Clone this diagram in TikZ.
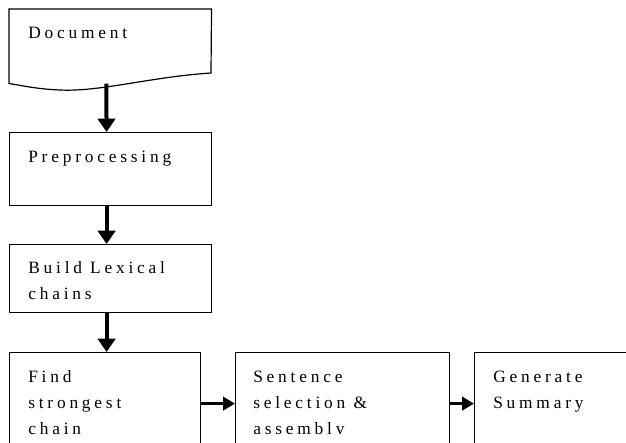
\documentclass[tikz,border=0pt]{standalone}
\usepackage{fontspec}
\setmainfont{Liberation Serif}[LetterSpace=22]
\usetikzlibrary{arrows.meta,positioning}

\newcommand{\lines}[1]{\begin{tabular}[t]{@{}l@{}}#1\end{tabular}}

\begin{document}
\begin{tikzpicture}[
x=0.75pt,y=-0.75pt,
stage/.style={
  draw,
  line width=0.9pt,
  anchor=north west,
  inner sep=0pt,
  minimum width=151.5pt
},
txt/.style={
  anchor=base west,
  inner sep=0pt,
  font=\fontsize{13pt}{19.5pt}\selectfont
},
down/.style={
  line width=3pt,
  -{Triangle[width=13pt,length=10pt]}
},
side/.style={
  line width=2.2pt,
  -{Triangle[width=10pt,length=9pt]}
}
]
\useasboundingbox (0,0) rectangle (626,443);
\clip (0,0) rectangle (626,443);

% document shape
\node[anchor=north west,inner sep=0pt,minimum width=151.5pt,minimum height=55.5pt] 
  (doc) at (9,9) {};
\draw[line width=0.9pt] (doc.south west) -- (doc.north west) -- (doc.north east) -- (211,73)
  .. controls (150,77) and (100,92) .. (60,90)
  .. controls (35,89) and (20,85) .. (doc.south west);

\node[stage,minimum height=54.75pt] 
  (prep) at (9,132) {};
\node[stage,minimum height=51pt] 
  (lex) at (9,244) {};
\node[stage,minimum width=143.25pt,minimum height=76.5pt] 
  (find) at (9,352) {};
\node[stage,minimum width=160.5pt,minimum height=76.5pt] 
  (sel) at (235,352) {};
\node[stage,minimum width=150pt,minimum height=76.5pt] 
  (gen) at (474,352) {};

\node[txt] (doct) at ([shift={(19,29)}]doc.north west) {Document};
\node[txt] (prept) at ([shift={(19,30)}]prep.north west) {Preprocessing};
\node[txt] (lext) at ([shift={(19,29)}]lex.north west) {\lines{Build Lexical\\chains}};
\node[txt] (findt) at ([shift={(19,30)}]find.north west) {\lines{Find\\strongest\\chain}};
\node[txt] (selt) at ([shift={(18,30)}]sel.north west) {\lines{Sentence\\selection \&\\assemblv}};
\node[txt] (gent) at ([shift={(19,30)}]gen.north west) {\lines{Generate\\Summary}};

\draw[down] ([xshift=-3pt]doc.south) -- ([xshift=-3pt]prep.north);
\draw[down] ([xshift=-3pt]prep.south) -- ([xshift=-3pt]lex.north);
\draw[down] ([xshift=-3pt]lex.south) -- ([xshift=-3pt]lex.south |- find.north);
\draw[side] (find.east) -- (sel.west);
\draw[side] (sel.east) -- (gen.west);
\end{tikzpicture}
\end{document}
